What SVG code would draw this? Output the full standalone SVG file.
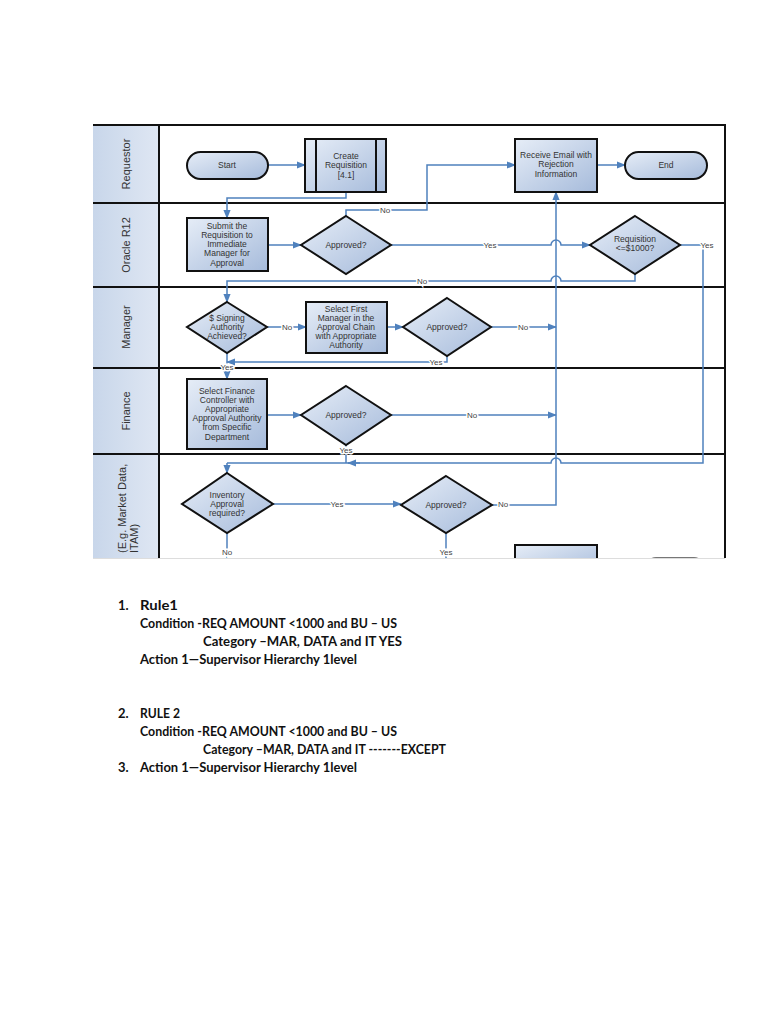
<svg xmlns="http://www.w3.org/2000/svg" width="768" height="1024" viewBox="0 0 768 1024">
<defs>
  <linearGradient id="nodeFill" x1="0" y1="0" x2="1" y2="1">
    <stop offset="0" stop-color="#e6edf7"/>
    <stop offset="1" stop-color="#a6bbdb"/>
  </linearGradient>
  <linearGradient id="headFill" x1="0" y1="0" x2="1" y2="0">
    <stop offset="0" stop-color="#c8d6ea"/>
    <stop offset="1" stop-color="#dfe7f3"/>
  </linearGradient>
  <marker id="arr" viewBox="0 0 10 10" refX="9" refY="5" markerWidth="9" markerHeight="9" markerUnits="userSpaceOnUse" orient="auto">
    <path d="M0,1 L10,5 L0,9 Z" fill="#4f81bd"/>
  </marker>
  <clipPath id="clip"><rect x="90" y="120" width="640" height="438"/></clipPath>
  <style>
    .node{fill:url(#nodeFill);stroke:#111;stroke-width:2}
    .lane{stroke:#111;stroke-width:2;fill:none}
    .conn{fill:none;stroke:#4f81bd;stroke-width:1.5}
    .arrow{marker-end:url(#arr)}
    .t{font-family:"Liberation Sans",Arial,sans-serif;font-size:8.5px;fill:#333;text-anchor:middle}
    .lbl{font-family:"Liberation Sans",Arial,sans-serif;font-size:8px;fill:#444;text-anchor:middle;paint-order:stroke;stroke:#fff;stroke-width:3px}
    .hd{font-family:"Liberation Sans",Arial,sans-serif;font-size:11px;fill:#333;text-anchor:middle}
    .rule{font-family:Lato,"Liberation Sans",sans-serif;font-size:13px;font-weight:bold;fill:#111}
  </style>
</defs>
<rect width="768" height="1024" fill="#fff"/>
<g clip-path="url(#clip)">
  <g id="lanes">
    <rect x="93" y="125" width="66" height="440" fill="url(#headFill)"/>
    <line class="lane" x1="93" y1="125" x2="725" y2="125"/>
    <line class="lane" x1="93" y1="203" x2="725" y2="203"/>
    <line class="lane" x1="93" y1="287" x2="725" y2="287"/>
    <line class="lane" x1="93" y1="368" x2="725" y2="368"/>
    <line class="lane" x1="93" y1="454" x2="725" y2="454"/>
    <line class="lane" x1="159" y1="125" x2="159" y2="565"/>
    <line class="lane" x1="725" y1="124" x2="725" y2="565"/>
    <text class="hd" transform="translate(130,164) rotate(-90)">Requestor</text>
    <text class="hd" transform="translate(130,245) rotate(-90)">Oracle R12</text>
    <text class="hd" transform="translate(130,327) rotate(-90)">Manager</text>
    <text class="hd" transform="translate(130,411) rotate(-90)">Finance</text>
    <text class="hd" style="text-anchor:start" transform="translate(126,553) rotate(-90)">(E.g. Market Data,</text>
    <text class="hd" style="text-anchor:start" transform="translate(138,553) rotate(-90)">ITAM)</text>
  </g>
  <g id="connectors">
    <path class="conn arrow" d="M268,165 H305"/>
    <path class="conn arrow" d="M346,192 V198 H227 V218"/>
    <path class="conn arrow" d="M268,245 H301"/>
    <path class="conn arrow" d="M346,216 V210 H427 V165 H515"/>
    <path class="conn arrow" d="M597,165 H625"/>
    <path class="conn arrow" d="M391,245 H551 a5,5 0 0 1 10,0 H590"/>
    <path class="conn" d="M680,245 H703 V463 H561 a5,5 0 0 0 -10,0 H227"/>
    <path class="conn arrow" d="M227,463 V473"/>
    <path class="conn arrow" d="M360,463 H348"/>
    <path class="conn arrow" d="M635,274 V281 H561 a5,5 0 0 0 -10,0 H227 V302"/>
    <path class="conn arrow" d="M267,327 H306"/>
    <path class="conn arrow" d="M387,327 H403"/>
    <path class="conn arrow" d="M491,327 H556"/>
    <path class="conn arrow" d="M447,356 V362 H227"/>
    <path class="conn arrow" d="M227,353 V379"/>
    <path class="conn arrow" d="M267,415 H301"/>
    <path class="conn arrow" d="M391,415 H556"/>
    <path class="conn" d="M346,445 V463"/>
    <path class="conn arrow" d="M492,505 H556 V192"/>
    <path class="conn arrow" d="M273,504 H401"/>
    <path class="conn" d="M227,533 V560"/>
    <path class="conn" d="M446,533 V560"/>
    <text class="lbl" x="385" y="213">No</text>
    <text class="lbl" x="490" y="248">Yes</text>
    <text class="lbl" x="707" y="248">Yes</text>
    <text class="lbl" x="422" y="284">No</text>
    <text class="lbl" x="287" y="330">No</text>
    <text class="lbl" x="523" y="330">No</text>
    <text class="lbl" x="436" y="365">Yes</text>
    <text class="lbl" x="227" y="370">Yes</text>
    <text class="lbl" x="472" y="418">No</text>
    <text class="lbl" x="346" y="453">Yes</text>
    <text class="lbl" x="337" y="507">Yes</text>
    <text class="lbl" x="503" y="507">No</text>
    <text class="lbl" x="227" y="555">No</text>
    <text class="lbl" x="446" y="555">Yes</text>
  </g>
  <g id="start">
    <rect class="node" x="187" y="152" width="81" height="27" rx="13.5"/>
    <text class="t" x="227" y="168">Start</text>
  </g>
  <g id="create">
    <rect class="node" x="305" y="139" width="81" height="53"/>
    <line class="lane" x1="316" y1="139" x2="316" y2="192"/>
    <line class="lane" x1="376" y1="139" x2="376" y2="192"/>
    <text class="t" x="346" y="159">Create</text>
    <text class="t" x="346" y="168">Requisition</text>
    <text class="t" x="346" y="178">[4.1]</text>
  </g>
  <g id="receive">
    <rect class="node" x="515" y="139" width="82" height="53"/>
    <text class="t" x="556" y="158">Receive Email with</text>
    <text class="t" x="556" y="167">Rejection</text>
    <text class="t" x="556" y="177">Information</text>
  </g>
  <g id="end">
    <rect class="node" x="625" y="152" width="82" height="27" rx="13.5"/>
    <text class="t" x="666" y="168">End</text>
  </g>
  <g id="submit">
    <rect class="node" x="187" y="218" width="81" height="53"/>
    <text class="t" x="227" y="229">Submit the</text>
    <text class="t" x="227" y="238">Requisition to</text>
    <text class="t" x="227" y="247">Immediate</text>
    <text class="t" x="227" y="256">Manager for</text>
    <text class="t" x="227" y="266">Approval</text>
  </g>
  <g id="approved1">
    <polygon class="node" points="346,216 391,245 346,274 301,245"/>
    <text class="t" x="346" y="248">Approved?</text>
  </g>
  <g id="requisition">
    <polygon class="node" points="635,216 680,245 635,274 590,245"/>
    <text class="t" x="635" y="242">Requisition</text>
    <text class="t" x="635" y="251">&lt;=$1000?</text>
  </g>
  <g id="signing">
    <polygon class="node" points="227,302 267,327 227,353 187,327"/>
    <text class="t" x="227" y="321">$ Signing</text>
    <text class="t" x="227" y="330">Authority</text>
    <text class="t" x="227" y="339">Achieved?</text>
  </g>
  <g id="selectFirst">
    <rect class="node" x="306" y="302" width="81" height="51"/>
    <text class="t" x="346" y="312">Select First</text>
    <text class="t" x="346" y="321">Manager in the</text>
    <text class="t" x="346" y="330">Approval Chain</text>
    <text class="t" x="346" y="339">with Appropriate</text>
    <text class="t" x="346" y="348">Authority</text>
  </g>
  <g id="approved2">
    <polygon class="node" points="447,298 491,327 447,356 403,327"/>
    <text class="t" x="447" y="330">Approved?</text>
  </g>
  <g id="finance">
    <rect class="node" x="187" y="379" width="80" height="70"/>
    <text class="t" x="227" y="394">Select Finance</text>
    <text class="t" x="227" y="403">Controller with</text>
    <text class="t" x="227" y="412">Appropriate</text>
    <text class="t" x="227" y="421">Approval Authority</text>
    <text class="t" x="227" y="430">from Specific</text>
    <text class="t" x="227" y="440">Department</text>
  </g>
  <g id="approved3">
    <polygon class="node" points="346,386 391,415 346,445 301,415"/>
    <text class="t" x="346" y="418">Approved?</text>
  </g>
  <g id="inventory">
    <polygon class="node" points="227,473 273,504 227,533 182,504"/>
    <text class="t" x="227" y="498">Inventory</text>
    <text class="t" x="227" y="507">Approval</text>
    <text class="t" x="227" y="516">required?</text>
  </g>
  <g id="approved4">
    <polygon class="node" points="446,476 492,505 446,533 401,505"/>
    <text class="t" x="446" y="508">Approved?</text>
  </g>
  <g id="partialBox">
    <rect class="node" x="515" y="545" width="82" height="30"/>
  </g>
  <g id="partialPill">
    <rect x="646" y="557" width="58" height="20" rx="10" fill="#777"/>
  </g>
</g>
<line x1="93" y1="558.5" x2="725" y2="558.5" stroke="#ddd" stroke-width="1"/>
<g id="rules">
  <text class="rule" x="118" y="610">1.</text>
  <text class="rule" x="140" y="610" textLength="38" lengthAdjust="spacingAndGlyphs">Rule1</text>
  <text class="rule" x="140" y="628" textLength="257" lengthAdjust="spacingAndGlyphs">Condition -REQ AMOUNT &lt;1000 and BU – US</text>
  <text class="rule" x="203" y="646" textLength="199" lengthAdjust="spacingAndGlyphs">Category –MAR, DATA and IT YES</text>
  <text class="rule" x="140" y="664" textLength="217" lengthAdjust="spacingAndGlyphs">Action 1—Supervisor Hierarchy 1level</text>
  <text class="rule" x="118" y="718">2.</text>
  <text class="rule" x="140" y="718" textLength="40" lengthAdjust="spacingAndGlyphs">RULE 2</text>
  <text class="rule" x="140" y="736" textLength="257" lengthAdjust="spacingAndGlyphs">Condition -REQ AMOUNT &lt;1000 and BU – US</text>
  <text class="rule" x="203" y="754" textLength="243" lengthAdjust="spacingAndGlyphs">Category –MAR, DATA and IT -------EXCEPT</text>
  <text class="rule" x="118" y="772">3.</text>
  <text class="rule" x="140" y="772" textLength="217" lengthAdjust="spacingAndGlyphs">Action 1—Supervisor Hierarchy 1level</text>
</g>
</svg>
